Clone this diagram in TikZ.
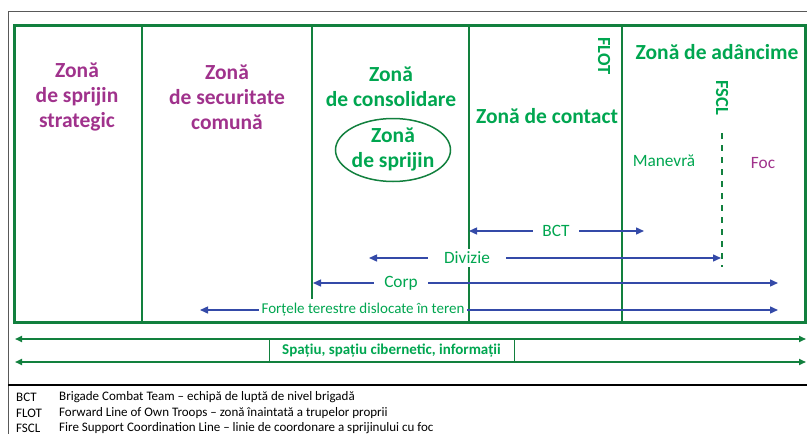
\documentclass[tikz,border=0pt]{standalone}
\usepackage{fontspec}
\setmainfont{Carlito}
\usetikzlibrary{arrows.meta,shapes.geometric}
\definecolor{lgreen}{RGB}{18,128,62}
\definecolor{tgreen}{RGB}{0,166,80}
\definecolor{zpurple}{RGB}{160,50,140}
\definecolor{ablue}{RGB}{52,74,168}
\begin{document}
\begin{tikzpicture}[x=1pt,y=-1pt,
  head/.style={font=\bfseries\fontsize{21.5}{25}\selectfont, align=center, inner sep=0pt},
  rothead/.style={font=\bfseries\fontsize{18.5}{22}\selectfont, inner sep=0pt, rotate=-90},
  plain/.style={font=\fontsize{17.3}{20}\selectfont, inner sep=0pt},
  lbl/.style={font=\fontsize{17.3}{20}\selectfont, text=tgreen, fill=white, inner ysep=3pt},
  divider/.style={draw=lgreen, line width=1.6pt},
  barrow/.style={draw=ablue, line width=1.4pt, {Triangle[length=8pt,width=7pt]}-{Triangle[length=8pt,width=7pt]}},
  garrow/.style={draw=lgreen, line width=1.6pt, {Triangle[length=7pt,width=6pt]}-{Triangle[length=7pt,width=6pt]}},
  legend/.style={font=\fontsize{13}{15}\selectfont, anchor=west, inner sep=0pt}
]
\useasboundingbox (0,0) rectangle (807,434);
% outer frame
\draw[black!65, line width=1pt] (807,11) -- (8,11) -- (8,434);
\draw[black, line width=1.8pt] (8,385) -- (807,385);
% dividers
\coordinate (d1t) at (142,25); \coordinate (d1b) at (142,322);
\coordinate (d2t) at (312,25); \coordinate (d2b) at (312,322);
\coordinate (d3t) at (469,25); \coordinate (d3b) at (469,322);
\coordinate (d4t) at (622,25); \coordinate (d4b) at (622,322);
\draw[divider] (d1t) -- (d1b);
\draw[divider, line width=1.2pt] (d2t) -- (d2b);
\draw[divider] (d3t) -- (d3b);
\draw[divider] (d4t) -- (d4b);
% FSCL dashed
\coordinate (fsT) at (722,133); \coordinate (fsB) at (722,267);
\draw[lgreen, line width=1.5pt, dash pattern=on 6pt off 6pt] (fsT) -- (fsB);
% main frame
\draw[lgreen, line width=3pt] (14,25) rectangle (805,322);
% headings
\node[head, text=zpurple] (zss) at (77,97) {Zonă\\de sprijin\\strategic};
\node[head, text=zpurple] (zsc) at (227,97) {Zonă\\de securitate\\comună};
\node[head, text=tgreen] (zcons) at (391,87) {Zonă\\de consolidare};
\node[draw=lgreen, line width=1.5pt, ellipse, minimum width=115pt, minimum height=63pt, inner sep=0pt] (ell) at (393,150) {};
\node[head, text=tgreen] (zsp) at (393,149) {Zonă\\de sprijin};
\node[head, text=tgreen] (zct) at (547,116) {Zonă de contact};
\node[head, text=tgreen] (zad) at (717,52) {Zonă de adâncime};
\node[rothead, text=tgreen] (flot) at (604,56) {FLOT};
\node[rothead, text=tgreen] (fscl) at (722,98) {FSCL};
\node[plain, text=tgreen] (man) at (664,161) {Manevră};
\node[plain, text=zpurple] (foc) at (763,163) {Foc};
% blue arrows
\coordinate (bctL) at (469,231); \coordinate (bctR) at (644,231);
\coordinate (divL) at (369,258); \coordinate (divR) at (721,258);
\coordinate (corpL) at (313,283); \coordinate (corpR) at (778,283);
\coordinate (forL) at (200,310); \coordinate (forR) at (778,310);
\draw[barrow] (bctL) -- (bctR);
\draw[barrow] (divL) -- (divR);
\draw[barrow] (corpL) -- (corpR);
\draw[barrow] (forL) -- (forR);
\node[lbl, inner xsep=9pt] (bct) at (556,231) {BCT};
\node[lbl, inner xsep=16pt] (div) at (467,258) {Divizie};
\node[lbl, inner xsep=10pt] (corp) at (401,283) {Corp};
\node[lbl, font=\fontsize{15}{17}\selectfont, inner xsep=3pt, inner ysep=4pt] (for) at (363,310) {Forțele terestre dislocate în teren};
% space / cyber
\node[draw=lgreen, line width=1pt, minimum width=245pt, minimum height=23pt, inner sep=0pt, text=tgreen, font=\bfseries\fontsize{15}{17}\selectfont] (sp) at (391.5,350.5) {Spațiu, spațiu cibernetic, informații};
\coordinate (spTL) at (15,339); \coordinate (spTR) at (806,339);
\coordinate (spBL) at (15,362); \coordinate (spBR) at (806,362);
\draw[garrow] (spTL) -- (spTR);
\draw[garrow] (spBL) -- (spBR);
% legend
\node[legend] (l1a) at (16,397) {BCT};
\node[legend] (l1b) at (59,397) {Brigade Combat Team – echipă de luptă de nivel brigadă};
\node[legend] (l2a) at (16,413) {FLOT};
\node[legend] (l2b) at (59,413) {Forward Line of Own Troops – zonă înaintată a trupelor proprii};
\node[legend] (l3a) at (16,428) {FSCL};
\node[legend] (l3b) at (59,428) {Fire Support Coordination Line – linie de coordonare a sprijinului cu foc};
\end{tikzpicture}
\end{document}
